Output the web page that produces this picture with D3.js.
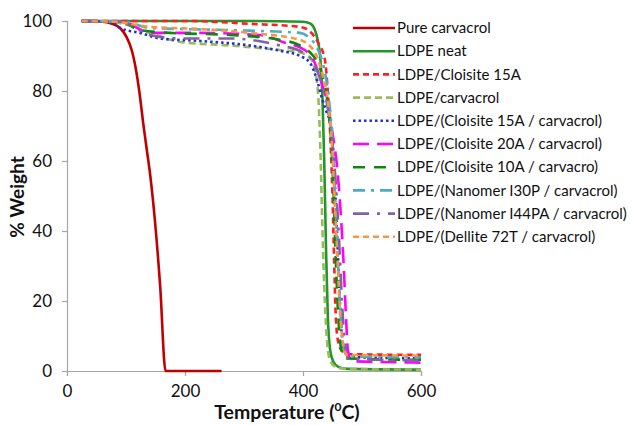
<!DOCTYPE html>
<html>
<head>
<meta charset="utf-8">
<script src="https://cdn.jsdelivr.net/npm/d3@7"></script>
<style>
  body { margin: 0; background: #fff; }
  #chart { width: 632px; height: 425px; }
  text { font-family: Lato, "Open Sans", sans-serif; fill: #111; }
</style>
</head>
<body>
<div id="chart"></div>
<script>
// Series names (legend order)
const seriesNames = [
    "Pure carvacrol",
    "LDPE neat",
    "LDPE/Cloisite 15A",
    "LDPE/carvacrol",
    "LDPE/(Cloisite 15A / carvacrol)",
    "LDPE/(Cloisite 20A / carvacrol)",
    "LDPE/(Cloisite 10A / carvacro)",
    "LDPE/(Nanomer I30P / carvacrol)",
    "LDPE/(Nanomer I44PA / carvacrol)",
    "LDPE/(Dellite 72T / carvacrol)"
];

// TGA curves: [temperature (C), % weight]
const pureCarvacrol = [[25,100],[60,99.8],[75,99.3],[90,98],[101,95.4],[110,91.5],[118,85],[124,78],[129,71],[135,63.5],[141,56],[149,43],[158,24],[167,0],[262,0]];
const ldpeNeat = [[25,100],[100,100],[300,100],[400,99.8],[412,99.3],[420,97.5],[425,94.5],[430,88],[433,78],[436,60],[439,35],[442,16],[446,6],[452,2.5],[460,1.2],[475,0.6],[600,0.4]];
const ldpeCloisite15A = [[25,100],[200,100],[310,99.2],[395,98.3],[412,97],[425,94],[437,89],[442,80],[446,68],[450,50],[453,30],[455,18],[458,10],[463,6.5],[470,5.2],[480,4.8],[600,4.6]];
const ldpeCarvacrol = [[25,100],[70,99.8],[100,99],[141,96.6],[192,94],[276,93],[361,91.7],[395,91],[412,89.5],[420,86],[426,78],[430,60],[433,40],[437,20],[441,8],[446,3],[455,1.2],[470,0.6],[600,0.4]];
const ldpeCl15Carv = [[25,100],[75,99.8],[90,98],[124,96.6],[158,95],[225,94.3],[310,93],[361,91.5],[395,90],[412,88],[424,83],[432,78],[440,74],[446,71],[450,66],[455,50],[460,30],[465,12],[470,6],[478,4],[600,3.6]];
const ldpeCl20Carv = [[25,100],[95,99.8],[141,96.6],[225,96.6],[327,96],[366,94],[403,91.7],[420,88],[432,82],[442,76],[450,68],[458,58],[464,45],[469,30],[473,15],[476,6],[482,2.8],[600,2.4]];
const ldpeCl10Carv = [[25,100],[90,99.8],[124,97.4],[175,96.6],[276,96],[361,94.6],[395,93],[412,91],[425,88],[435,83],[443,75],[448,65],[452,50],[456,30],[460,15],[465,6],[472,3.6],[600,3.2]];
const ldpeN30Carv = [[25,100],[95,99.8],[141,98],[276,97.4],[395,96.6],[412,95],[425,92],[435,87],[443,79],[449,68],[454,52],[459,33],[464,16],[469,7],[475,4.2],[600,3.9]];
const ldpeN44Carv = [[25,100],[90,99.8],[141,96],[192,95],[276,95],[361,93],[400,91],[418,88],[430,83],[440,77],[448,68],[455,55],[461,38],[466,20],[471,8],[477,3.5],[600,3]];
const ldpeD72Carv = [[25,100],[80,99.8],[141,98.3],[225,97.7],[310,96.6],[395,94.6],[420,91],[434,84],[443,76],[449,65],[454,48],[459,30],[464,14],[469,7],[475,4.6],[600,4.4]];

const seriesData = [pureCarvacrol, ldpeNeat, ldpeCloisite15A, ldpeCarvacrol, ldpeCl15Carv,
    ldpeCl20Carv, ldpeCl10Carv, ldpeN30Carv, ldpeN44Carv, ldpeD72Carv];

const xTicks = [0, 200, 400, 600];
const yTicks = [0, 20, 40, 60, 80, 100];

// Styles for each series
const colors = ["#c00000", "#23952b", "#ff1f1f", "#9bbb59", "#1f2fd6", "#ff00ff", "#0a8a0a", "#4bacc6", "#8064a2", "#f79646"];
const dashes = [null, null, "6,4", "7,4", "2.5,3", "16,8", "12,9", "12,6,3,6", "16,8,3,8", "6,4"];

const margin = {top: 21, left: 67};
const plotW = 354, plotH = 350;

const svg = d3.select("#chart").append("svg")
    .attr("width", 632)
    .attr("height", 425);

const g = svg.append("g")
    .attr("transform", `translate(${margin.left},${margin.top})`);

const x = d3.scaleLinear().domain([0, 600]).range([0, plotW]);
const y = d3.scaleLinear().domain([0, 100]).range([plotH, 0]);

// Axes
const xAxis = g.append("g")
    .attr("transform", `translate(0,${plotH})`)
    .call(d3.axisBottom(x).tickValues(xTicks).tickSize(5).tickPadding(9));
const yAxis = g.append("g")
    .call(d3.axisLeft(y).tickValues(yTicks).tickSize(5).tickPadding(10));

[xAxis, yAxis].forEach(a => {
    a.select(".domain").attr("stroke", "#a6a6a6").attr("stroke-width", 1.2);
    a.selectAll(".tick line").attr("stroke", "#a6a6a6").attr("stroke-width", 1.2);
    a.selectAll(".tick text")
        .style("font-family", "Lato, sans-serif")
        .style("font-size", "17px")
        .attr("fill", "#111");
});

// Lines
const line = d3.line()
    .x(d => x(d[0]))
    .y(d => y(d[1]))
    .curve(d3.curveMonotoneX);

g.selectAll(".series")
    .data(seriesData)
    .join("path")
    .attr("class", "series")
    .attr("d", d => line(d))
    .attr("fill", "none")
    .attr("stroke", (d, i) => colors[i])
    .attr("stroke-width", 2.6)
    .attr("stroke-dasharray", (d, i) => dashes[i]);

// Legend
const legend = svg.append("g").attr("transform", "translate(353,28)");
const rowH = 23.2;

legend.selectAll("line")
    .data(seriesNames)
    .join("line")
    .attr("x1", 0).attr("x2", 42)
    .attr("y1", (d, i) => i * rowH)
    .attr("y2", (d, i) => i * rowH)
    .attr("stroke", (d, i) => colors[i])
    .attr("stroke-width", 2.6)
    .attr("stroke-dasharray", (d, i) => dashes[i]);

legend.selectAll("text")
    .data(seriesNames)
    .join("text")
    .attr("x", 44)
    .attr("y", (d, i) => i * rowH)
    .attr("dy", "0.35em")
    .style("font-size", "15px")
    .text(d => d);

// Axis titles
const xTitle = svg.append("text")
    .attr("x", 287)
    .attr("y", 419)
    .attr("text-anchor", "middle")
    .style("font-size", "19.5px")
    .style("font-weight", "bold");
xTitle.append("tspan").text("Temperature (");
xTitle.append("tspan").attr("dy", -8).style("font-size", "12px").text("0");
xTitle.append("tspan").attr("dy", 8).text("C)");

svg.append("text")
    .attr("transform", "translate(24,197) rotate(-90)")
    .attr("text-anchor", "middle")
    .style("font-size", "19px")
    .style("font-weight", "bold")
    .text("% Weight");
</script>
</body>
</html>
